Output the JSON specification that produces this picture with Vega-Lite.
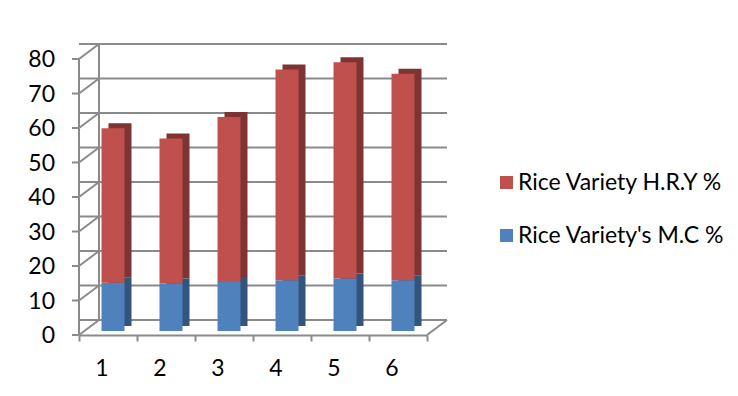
{
  "$schema": "https://vega.github.io/schema/vega-lite/v6.json",
  "width": 348,
  "height": 276,
  "autosize": "none",
  "padding": {"left": 79, "top": 59, "right": 311, "bottom": 61},
  "background": "white",
  "config": {
    "view": {"stroke": null},
    "font": "Lato",
    "axis": {"labelFont": "Lato", "labelColor": "#000000", "labelFontSize": 23, "domainColor": "#8a8a8a", "domainWidth": 2, "tickColor": "#8a8a8a", "tickWidth": 2, "grid": false}
  },
  "datasets": {
    "bars": [
      {"variety": "1", "series": "Rice Variety's M.C %", "value": 14.0},
      {"variety": "1", "series": "Rice Variety H.R.Y %", "value": 44.8},
      {"variety": "2", "series": "Rice Variety's M.C %", "value": 13.8},
      {"variety": "2", "series": "Rice Variety H.R.Y %", "value": 42.0},
      {"variety": "3", "series": "Rice Variety's M.C %", "value": 14.2},
      {"variety": "3", "series": "Rice Variety H.R.Y %", "value": 47.8},
      {"variety": "4", "series": "Rice Variety's M.C %", "value": 14.7},
      {"variety": "4", "series": "Rice Variety H.R.Y %", "value": 61.1},
      {"variety": "5", "series": "Rice Variety's M.C %", "value": 15.2},
      {"variety": "5", "series": "Rice Variety H.R.Y %", "value": 62.7},
      {"variety": "6", "series": "Rice Variety's M.C %", "value": 14.7},
      {"variety": "6", "series": "Rice Variety H.R.Y %", "value": 59.9}
    ],
    "grid": [{"v": 0}, {"v": 10}, {"v": 20}, {"v": 30}, {"v": 40}, {"v": 50}, {"v": 60}, {"v": 70}, {"v": 80}],
    "wall": [{"lo": 0, "hi": 80}]
  },
  "layer": [
    {
      "data": {"name": "grid"},
      "mark": {"type": "rule", "color": "#8a8a8a", "strokeWidth": 2, "xOffset": 20, "x2Offset": 20, "yOffset": -15},
      "encoding": {
        "y": {"field": "v", "type": "quantitative", "title": null, "scale": {"domain": [0, 80], "nice": false}, "axis": null}
      }
    },
    {
      "data": {"name": "grid"},
      "mark": {"type": "rule", "color": "#8a8a8a", "strokeWidth": 2, "x2Offset": 20, "y2Offset": -15},
      "encoding": {
        "x": {"datum": "1", "type": "ordinal", "bandPosition": 0, "title": null},
        "x2": {"datum": "1", "bandPosition": 0},
        "y": {"field": "v", "type": "quantitative", "title": null, "axis": null},
        "y2": {"field": "v"}
      }
    },
    {
      "data": {"name": "grid"},
      "mark": {"type": "rule", "color": "#8a8a8a", "strokeWidth": 2, "xOffset": -7},
      "encoding": {
        "x": {"datum": "1", "type": "ordinal", "bandPosition": 0, "title": null},
        "x2": {"datum": "1", "bandPosition": 0},
        "y": {"field": "v", "type": "quantitative", "title": null, "axis": null},
        "y2": {"field": "v"}
      }
    },
    {
      "data": {"name": "grid"},
      "mark": {"type": "text", "align": "right", "baseline": "middle", "font": "Lato", "fontSize": 23, "color": "#000000", "xOffset": -24, "yOffset": 1},
      "encoding": {
        "x": {"datum": "1", "type": "ordinal", "bandPosition": 0, "title": null},
        "y": {"field": "v", "type": "quantitative", "title": null, "axis": null},
        "text": {"field": "v", "type": "quantitative"}
      }
    },
    {
      "data": {"name": "wall"},
      "mark": {"type": "rule", "color": "#8a8a8a", "strokeWidth": 2},
      "encoding": {
        "x": {"datum": "1", "type": "ordinal", "bandPosition": 0, "title": null},
        "y": {"field": "lo", "type": "quantitative", "title": null, "axis": null},
        "y2": {"field": "hi"}
      }
    },
    {
      "data": {"name": "wall"},
      "mark": {"type": "rule", "color": "#8a8a8a", "strokeWidth": 2, "xOffset": 20, "yOffset": -15, "y2Offset": -15},
      "encoding": {
        "x": {"datum": "1", "type": "ordinal", "bandPosition": 0, "title": null},
        "y": {"field": "lo", "type": "quantitative", "title": null, "axis": null},
        "y2": {"field": "hi"}
      }
    },
    {
      "data": {"values": [{"v": 0}]},
      "mark": {"type": "rule", "color": "#8a8a8a", "strokeWidth": 2, "x2Offset": 20, "y2Offset": -15},
      "encoding": {
        "x": {"datum": "6", "type": "ordinal", "bandPosition": 1, "title": null},
        "x2": {"datum": "6", "bandPosition": 1},
        "y": {"field": "v", "type": "quantitative", "title": null, "axis": null},
        "y2": {"field": "v"}
      }
    },
    {
      "data": {"name": "bars"},
      "mark": {"type": "bar", "width": 23, "xOffset": 12, "yOffset": -9, "y2Offset": -9},
      "encoding": {
        "x": {"field": "variety", "type": "ordinal", "title": null},
        "y": {"field": "value", "type": "quantitative", "stack": "zero", "title": null, "axis": null},
        "order": {"field": "series", "sort": "descending"},
        "color": {"field": "series", "type": "nominal", "legend": null,
          "scale": {"domain": ["Rice Variety H.R.Y %", "Rice Variety's M.C %"], "range": ["#7d3432", "#33547b"]}}
      }
    },
    {
      "data": {"name": "bars"},
      "mark": {"type": "bar", "width": 23, "xOffset": 5, "yOffset": -4, "y2Offset": -4},
      "encoding": {
        "x": {"field": "variety", "type": "ordinal", "title": null,
          "scale": {"paddingInner": 0, "paddingOuter": 0},
          "axis": {"labelAngle": 0, "tickBand": "extent", "tickSize": 6, "labelPadding": 27, "title": null}},
        "y": {"field": "value", "type": "quantitative", "stack": "zero", "title": null, "axis": null},
        "order": {"field": "series", "sort": "descending"},
        "color": {"field": "series", "type": "nominal", "title": null,
          "scale": {"domain": ["Rice Variety H.R.Y %", "Rice Variety's M.C %"], "range": ["#c0504d", "#4f81bd"]},
          "legend": {"orient": "none", "legendX": 416, "legendY": 112, "symbolType": "square", "symbolSize": 169, "symbolStrokeWidth": 0, "labelFontSize": 23, "labelFont": "Lato", "labelColor": "#000000", "labelOffset": 0, "rowPadding": 29, "labelLimit": 400}}
      }
    }
  ],
  "resolve": {"scale": {"color": "independent"}}
}
